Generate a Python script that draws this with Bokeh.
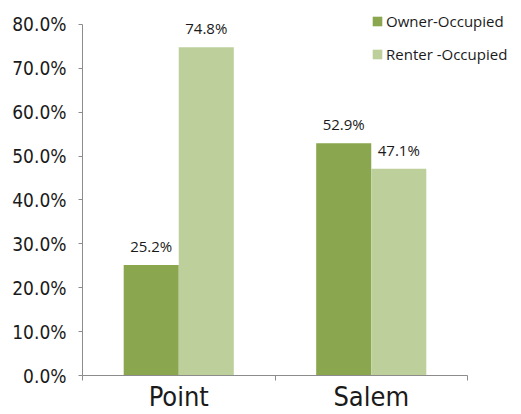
from bokeh.plotting import figure
from bokeh.models import ColumnDataSource, FixedTicker, Legend, LegendItem, Range1d
from bokeh.core.properties import value
from bokeh.embed import file_html
from bokeh.resources import INLINE

categories = ["Point", "Salem"]
owner = [25.2, 52.9]
renter = [74.8, 47.1]
series_names = ["Owner-Occupied", "Renter -Occupied"]
y_ticks = [0, 10, 20, 30, 40, 50, 60, 70, 80]

OWNER_C = "#8aa64f"
RENTER_C = "#bdd09b"
BAR_W = 0.286
Y_MAX = 80
N = len(categories)

FRAME_L, FRAME_B = 82, 38
W, H = 521, 414
plot_w_px = 385
plot_h_px = 352
x_end = N * (W - FRAME_L) / plot_w_px
y_end = Y_MAX * (H - FRAME_B) / plot_h_px

xc = [i + 0.5 for i in range(N)]
src_o = ColumnDataSource(dict(x=[c - BAR_W / 2 for c in xc], top=owner,
                              lab=[f"{v:.1f}%" for v in owner]))
src_r = ColumnDataSource(dict(x=[c + BAR_W / 2 for c in xc], top=renter,
                              lab=[f"{v:.1f}%" for v in renter]))

p = figure(width=W, height=H, output_backend="svg", toolbar_location=None,
           x_range=Range1d(0, x_end), y_range=Range1d(0, y_end),
           min_border_left=FRAME_L, min_border_right=0, min_border_top=0,
           min_border_bottom=FRAME_B)
p.outline_line_color = None
p.grid.grid_line_color = None
p.background_fill_color = "white"
p.border_fill_color = "white"

r1 = p.vbar(x="x", top="top", width=BAR_W, source=src_o, fill_color=OWNER_C, line_color=None)
r2 = p.vbar(x="x", top="top", width=BAR_W, source=src_r, fill_color=RENTER_C, line_color=None)

for s in (src_o, src_r):
    p.text(x="x", y="top", text="lab", source=s, text_align="center", text_baseline="bottom",
           y_offset=-9, text_font=value("Open Sans"), text_font_size="15px", text_color="#1a1a1a")

AX_FONT = "DejaVu Sans Condensed, sans-serif"

p.yaxis.bounds = (0, Y_MAX)
p.yaxis.ticker = FixedTicker(ticks=y_ticks)
p.yaxis.major_label_overrides = {t: f"{t:.1f}%" for t in y_ticks}
p.yaxis.major_label_text_font = AX_FONT
p.yaxis.major_label_text_font_size = "19px"
p.yaxis.major_label_text_color = "#1a1a1a"
p.yaxis.major_label_standoff = 12
p.yaxis.axis_line_color = "#8c8c8c"
p.yaxis.major_tick_line_color = "#8c8c8c"
p.yaxis.major_tick_out = 4
p.yaxis.major_tick_in = 0
p.yaxis.minor_tick_line_color = None

p.xaxis.bounds = (0, N)
p.xaxis.ticker = FixedTicker(ticks=xc, minor_ticks=list(range(N + 1)))
p.xaxis.major_label_overrides = {c: n for c, n in zip(xc, categories)}
p.xaxis.major_label_text_font = AX_FONT
p.xaxis.major_label_text_font_size = "27px"
p.xaxis.major_label_text_color = "#1a1a1a"
p.xaxis.major_label_standoff = 0
p.xaxis.axis_line_color = "#8c8c8c"
p.xaxis.major_tick_line_color = None
p.xaxis.major_tick_out = 0
p.xaxis.major_tick_in = 0
p.xaxis.minor_tick_line_color = "#8c8c8c"
p.xaxis.minor_tick_out = 5
p.xaxis.minor_tick_in = 0

legend = Legend(items=[LegendItem(label=series_names[0], renderers=[r1]),
                       LegendItem(label=series_names[1], renderers=[r2])],
                location=(289, 311), orientation="vertical",
                glyph_width=12, glyph_height=12, label_standoff=3, spacing=13,
                padding=0, margin=0, border_line_color=None, background_fill_alpha=0,
                label_text_font="Open Sans", label_text_font_size="15px",
                label_text_color="#1a1a1a")
p.add_layout(legend)

open("out.html", "w").write(file_html(p, INLINE))
